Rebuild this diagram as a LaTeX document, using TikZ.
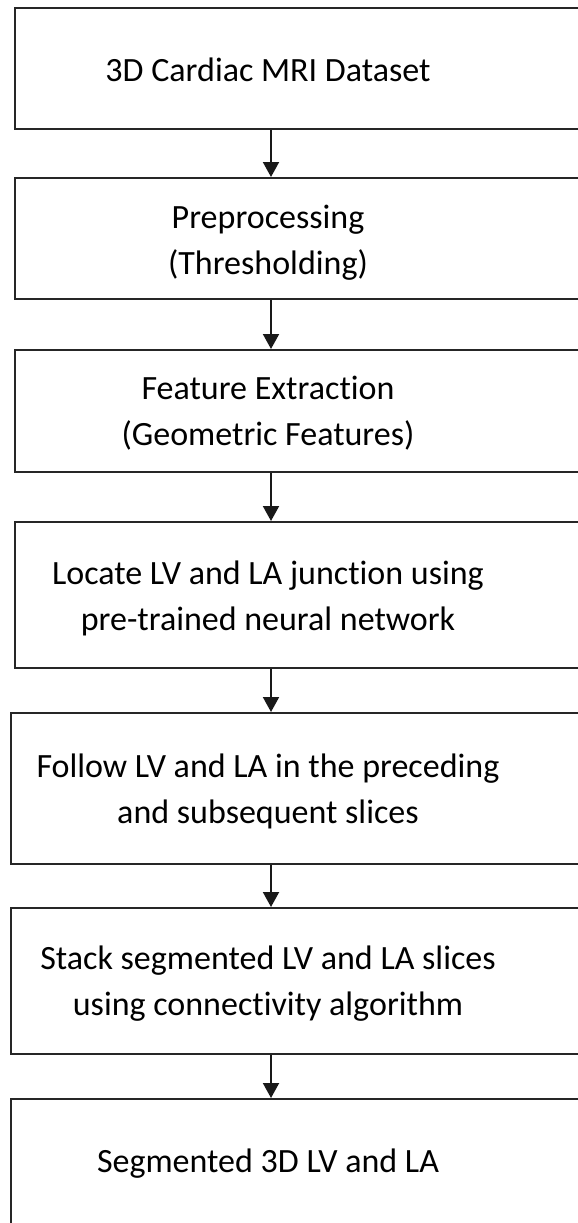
\documentclass[tikz,border=0pt]{standalone}
\usepackage{fontspec}
\setmainfont[Ligatures=NoCommon]{Carlito}
\usepackage{tikz}
\usetikzlibrary{positioning,arrows.meta}

\begin{document}
\begin{tikzpicture}[
    x=1pt, y=-1pt,
    box/.style={draw=black!85, line width=1.6pt, anchor=north west, minimum width=620pt, inner sep=0pt},
    txt/.style={align=center, font=\fontsize{34}{46}\selectfont, text=black, inner sep=0pt},
    arr/.style={-{Triangle[length=15pt, width=16pt]}, line width=2pt, draw=black!90}
]
\useasboundingbox (0,0) rectangle (578,1223);

% boxes (they run past the right edge)
\node[box, minimum height=121pt] (data) at (14,7) {};
\node[box, minimum height=121pt] (prep) at (14,177) {};
\node[box, minimum height=122pt] (feat) at (14,349) {};
\node[box, minimum height=146pt] (loc) at (14,521) {};
\node[box, minimum height=151pt] (follow) at (10,712) {};
\node[box, minimum height=146pt] (stack) at (10,907) {};
\node[box, minimum height=160pt] (seg) at (10,1098) {};
\coordinate (axis) at (271,0);

% texts
\node[txt] (tdata) at (268,70) {3D Cardiac MRI Dataset};
\node[txt] (tprep) at (268,243) {Preprocessing\\(Thresholding)};
\node[txt] (tfeat) at (268,413) {Feature Extraction\\(Geometric Features)};
\node[txt] (tloc) at (268,598) {Locate LV and LA junction using\\pre-trained neural network};
\node[txt] (tfollow) at (268,791) {Follow LV and LA in the preceding\\and subsequent slices};
\node[txt] (tstack) at (268,984) {Stack segmented LV and LA slices\\using connectivity algorithm};
\node[txt] (tseg) at (268,1164) {Segmented 3D LV and LA};

% arrows
\draw[arr] (data.south -| axis) -- (prep.north -| axis);
\draw[arr] (prep.south -| axis) -- (feat.north -| axis);
\draw[arr] (feat.south -| axis) -- (loc.north -| axis);
\draw[arr] (loc.south -| axis) -- (follow.north -| axis);
\draw[arr] (follow.south -| axis) -- (stack.north -| axis);
\draw[arr] (stack.south -| axis) -- (seg.north -| axis);
\end{tikzpicture}
\end{document}
